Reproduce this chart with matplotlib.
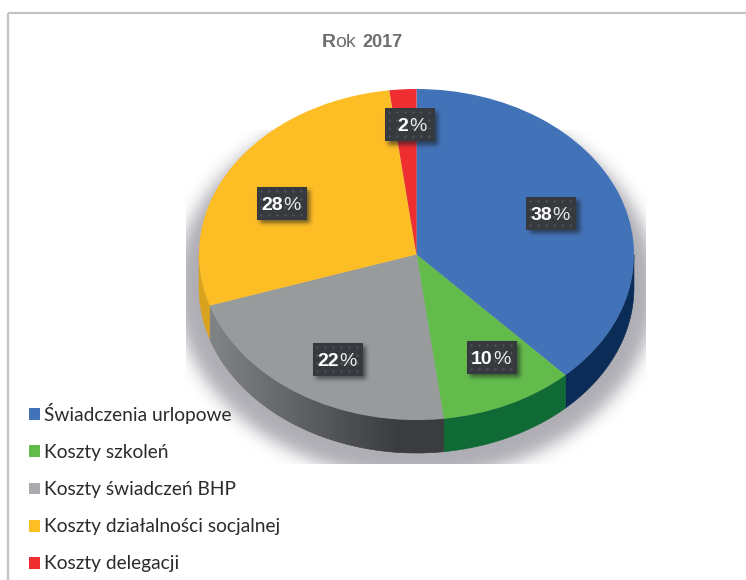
import numpy as np
import matplotlib
matplotlib.use("Agg")
import matplotlib.pyplot as plt
from matplotlib.colors import to_rgb
from matplotlib.patches import Patch, Rectangle

# Cost shares for 2017
title_parts = ["R", "ok", "2017"]
categories = ["Świadczenia urlopowe", "Koszty szkoleń", "Koszty świadczeń BHP",
              "Koszty działalności socjalnej", "Koszty delegacji"]
shares = [38, 10, 22, 28, 2]
top_colors = ["#4272b8", "#63bb4b", "#989b9b", "#fdbd25", "#ee2e31"]
wall_colors = ["#0b2c56", "#0f6a35", None, "#d9a31f", "#b02024"]
legend_colors = ["#4272b8", "#63bb4b", "#a9abae", "#fdbd25", "#ee2e31"]
label_centers = [(551, 213), (491.5, 357), (337.5, 359), (281.5, 203), (409.5, 124.5)]

W, H = 746, 580
SANS = "Liberation Sans"

fig = plt.figure(figsize=(W / 100, H / 100), dpi=100, facecolor="white")


def gaussian_blur(mask, sigma):
    radius = int(3 * sigma)
    kernel = np.exp(-0.5 * (np.arange(-radius, radius + 1) / sigma) ** 2)
    kernel /= kernel.sum()
    blur = lambda row: np.convolve(row, kernel, mode="same")
    return np.apply_along_axis(blur, 1, np.apply_along_axis(blur, 0, mask))


def pixel_axes(zorder):
    ax = fig.add_axes([0, 0, 1, 1], zorder=zorder)
    ax.set_xlim(0, W)
    ax.set_ylim(H, 0)
    ax.axis("off")
    ax.patch.set_alpha(0)
    return ax


# Background layer: frame lines and the soft drop shadow below the pie
back = pixel_axes(0)
back.plot([8, 8], [H, 13], color="#c4c4c4", lw=1.6, solid_capstyle="butt")
back.plot([8, W], [13, 13], color="#c4c4c4", lw=1.6, solid_capstyle="butt")

# The shadow is cut off square on its left, right and lower sides
sx0, sx1, sy0, sy1 = 186, 646, 130, 464
pad = 40
gy, gx = np.mgrid[sy0 - pad:sy1 + pad, sx0 - pad:sx1 + pad] + 0.5
shadow_mask = (((gx - 416) / 240.0) ** 2 + ((gy - 288) / 190.0) ** 2 <= 1).astype(float)
shadow_alpha = gaussian_blur(shadow_mask, 8)[pad:-pad, pad:-pad]
shadow_rgba = np.zeros(shadow_alpha.shape + (4,))
shadow_rgba[..., :3] = to_rgb("#b0aeb5")
shadow_rgba[..., 3] = shadow_alpha
back.imshow(shadow_rgba, extent=(sx0, sx1, sy1, sy0), interpolation="bilinear", aspect="auto")
back.set_xlim(0, W)
back.set_ylim(H, 0)

# Pie layer: unit circle squashed into an ellipse by the axes box
left, right, top, bottom = 199, 634, 89, 420
pie_ax = fig.add_axes([left / W, 1 - bottom / H, (right - left) / W, (bottom - top) / H], zorder=1)
DEPTH = 33 / ((bottom - top) / 2)

edges = np.concatenate([[0], np.cumsum(shares)]) / np.sum(shares) * 360


def wall_segment(t0, t1, color):
    theta = np.radians(np.linspace(t0, t1, 60))
    x, y = np.sin(theta), np.cos(theta)
    pie_ax.fill(np.r_[x, x[::-1]], np.r_[y, y[::-1] - DEPTH],
                color=color, lw=0.4, clip_on=False, zorder=1)


for i, share in enumerate(shares):
    t0, t1 = max(edges[i], 90), min(edges[i + 1], 270)
    if t1 <= t0:
        continue
    if wall_colors[i] is not None:
        wall_segment(t0, t1, wall_colors[i])
        continue
    # The grey slice's wall darkens towards the right
    steps = np.linspace(t0, t1, 90)
    x0 = np.sin(np.radians(t1))
    x1 = np.sin(np.radians(t0))
    dark, light = np.array(to_rgb("#3a3c3e")), np.array(to_rgb("#818485"))
    for a, b in zip(steps[:-1], steps[1:]):
        mid = np.sin(np.radians((a + b) / 2))
        f = np.clip((mid - x0) / (x1 - x0) / 0.8, 0, 1)
        wall_segment(a, b + 0.2, tuple(light + (dark - light) * f))

wedges, _ = pie_ax.pie(shares, colors=top_colors, startangle=90, counterclock=False,
                       radius=1, wedgeprops={"linewidth": 0, "zorder": 2})
for w in wedges:
    w.set_clip_on(False)
pie_ax.set_aspect("auto")
pie_ax.set_xlim(-1, 1)
pie_ax.set_ylim(-1, 1)
pie_ax.axis("off")

# Label layer: dotted dark tags with a soft shadow
tags = pixel_axes(2)
BOX_W, BOX_H = 50, 33
tag_mask = np.zeros((H, W))
for cx, cy in label_centers:
    tag_mask[int(cy - BOX_H / 2 + 4):int(cy + BOX_H / 2 + 4),
             int(cx - BOX_W / 2 + 4):int(cx + BOX_W / 2 + 4)] = 1
tag_rgba = np.zeros((H, W, 4))
tag_rgba[..., :3] = to_rgb("#1c1e22")
tag_rgba[..., 3] = gaussian_blur(tag_mask, 2.2) * 0.6
tags.imshow(tag_rgba, extent=(0, W, H, 0), interpolation="bilinear", aspect="auto", zorder=1)
tags.set_xlim(0, W)
tags.set_ylim(H, 0)

for (cx, cy), share in zip(label_centers, shares):
    x0, y0 = cx - BOX_W / 2, cy - BOX_H / 2
    tags.add_patch(Rectangle((x0, y0), BOX_W, BOX_H, fc="#36393d", ec="none", zorder=2))
    mx, my = np.meshgrid(np.arange(x0 + 4, x0 + BOX_W, 8), np.arange(y0 + 4, y0 + BOX_H, 8))
    tags.scatter(mx.ravel(), my.ravel(), s=3.0, c="#505357", linewidths=0, zorder=3)
    split = cx + 1 if share >= 10 else cx - 1
    tags.text(split, cy + 2, str(share), ha="right", va="center", color="white",
              family=SANS, weight="bold", fontsize=14, zorder=4)
    tags.text(split + 0.5, cy + 2, "%", ha="left", va="center", color="#ececec",
              family=SANS, fontsize=14, zorder=4)

# Title set in mixed weights
title_color = "#6d6e71"
for txt, x, weight, size in zip(title_parts, [322, 335, 362], ["bold", "normal", "bold"], [14, 14, 13]):
    tags.text(x, 47, txt, ha="left", va="baseline", color=title_color,
              family=SANS, weight=weight, fontsize=size)

# Legend
handles = [Patch(facecolor=c, edgecolor="none") for c in legend_colors]
leg = tags.legend(handles, categories, loc="upper left", bbox_to_anchor=(29 / W, 1 - 403 / H),
                  bbox_transform=fig.transFigure, frameon=False, borderpad=0, borderaxespad=0,
                  prop={"family": "Lato", "size": 13.8}, labelcolor="#2b2b2d",
                  handlelength=0.573, handleheight=0.573, handletextpad=0.21,
                  labelspacing=1.05)

fig.savefig("out.png", dpi=100)
